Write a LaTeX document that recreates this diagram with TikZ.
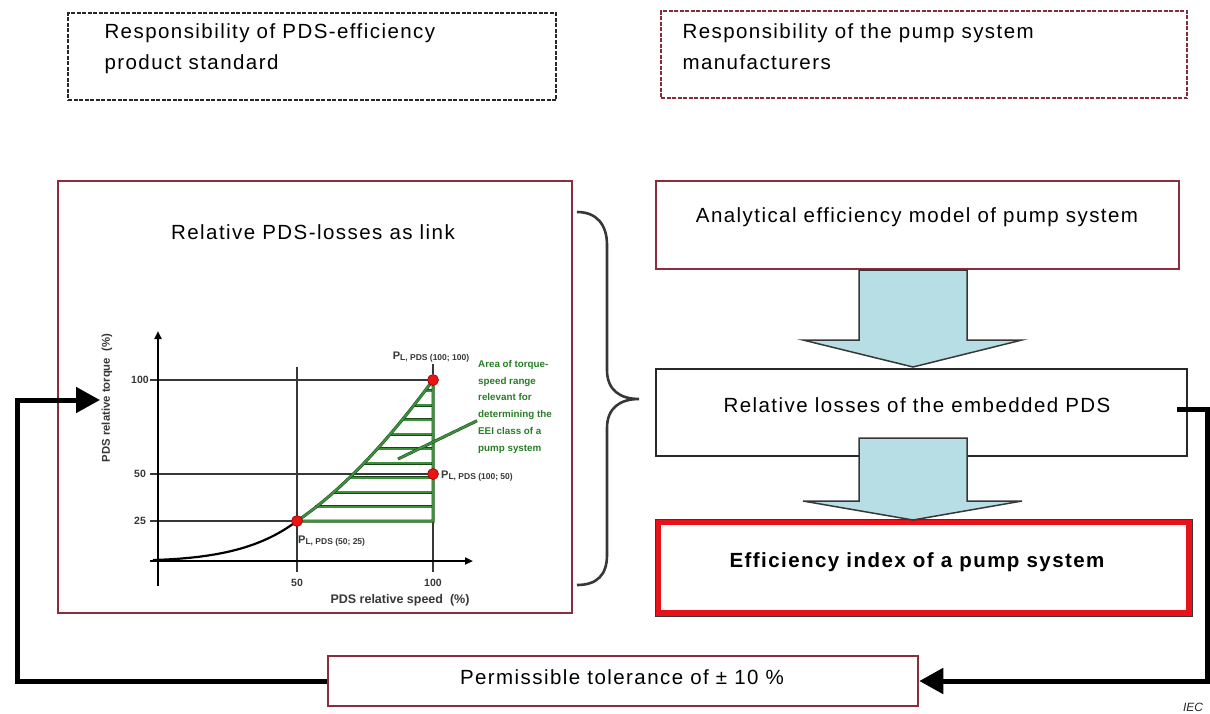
\documentclass[tikz,border=0pt]{standalone}
\usepackage{fontspec}
\setmainfont{Liberation Sans}
\newfontfamily\spacedsans{Liberation Sans}[LetterSpace=7]
\usetikzlibrary{arrows.meta,calc}

\definecolor{boxred}{RGB}{140,45,62}
\definecolor{dashgray}{RGB}{40,40,40}
\definecolor{dashred}{RGB}{140,40,60}
\definecolor{eeired}{RGB}{232,18,24}
\definecolor{arrowblue}{RGB}{183,222,228}
\definecolor{chartgray}{RGB}{55,55,55}
\definecolor{hatchgreen}{RGB}{60,145,60}
\definecolor{hatchdark}{RGB}{25,70,25}
\definecolor{textgreen}{RGB}{40,125,40}
\definecolor{dotred}{RGB}{235,20,20}
\definecolor{dotdark}{RGB}{150,0,0}

% lowered small index after a bold P
\newcommand{\plab}[1]{{\fontsize{11}{12}\selectfont P}\raisebox{-1.8pt}{\fontsize{8.5}{9}\selectfont #1}}

% wide flat-headed block arrow pointing down: top point, tip point, head height
\newcommand{\blockdown}[3]{%
  \draw[blockarrow] let \p1=(#1), \p2=(#2) in
    (\x2-54pt,\y1) -- (\x2+54pt,\y1) -- (\x2+54pt,\y2+#3) -- (\x2+109pt,\y2+#3)
    -- (\p2) -- (\x2-110pt,\y2+#3) -- (\x2-54pt,\y2+#3) -- cycle;}

\begin{document}
\begin{tikzpicture}[x=1pt,y=-1pt,
  boxtext/.style={font=\spacedsans\fontsize{20.5}{31}\selectfont},
  boldtext/.style={font=\spacedsans\bfseries\fontsize{20.5}{31}\selectfont},
  dashbox/.style={draw, line width=2.6pt, dash pattern=on 4pt off 1.5pt, inner sep=0pt},
  redbox/.style={draw=boxred, line width=2.5pt, inner sep=0pt},
  blackbox/.style={draw=dashgray, line width=2.5pt, inner sep=0pt},
  blockarrow/.style={draw=chartgray, line width=1.5pt, fill=arrowblue, line join=miter},
  feedback/.style={line width=5pt, line join=miter, -{Triangle[length=24pt,width=25pt]}},
  bracestyle/.style={draw=chartgray, line width=2.6pt},
  gridline/.style={draw=chartgray, line width=2pt},
  axis/.style={draw=black, line width=2pt, -{Triangle[length=8pt,width=7pt]}},
  hatch/.style={draw=hatchdark, line width=0.5pt, double=hatchgreen, double distance=2pt},
  dot/.style={circle, fill=dotred, draw=dotdark, line width=0.6pt, minimum size=11pt, inner sep=0pt},
  ticklab/.style={font=\bfseries\fontsize{10.5}{12}\selectfont, text=chartgray},
  axtitle/.style={font=\bfseries\fontsize{12.5}{14}\selectfont, text=chartgray},
  plabel/.style={font=\bfseries, text=chartgray, inner sep=1pt},
  greentext/.style={font=\bfseries\fontsize{9.8}{16.8}\selectfont, text=textgreen, inner sep=0pt}
]
\useasboundingbox (0,0) rectangle (1210,713);

% responsibility frames
\node[dashbox, draw=dashgray, minimum width=488pt, minimum height=87pt] (stdframe) at (312,56.5) {};
\node[boxtext, anchor=west, align=left] (stdtext) at (101,49) {Responsibility of PDS-efficiency\\product standard};
\node[dashbox, draw=dashred, minimum width=526pt, minimum height=87pt] (mfrframe) at (924,54.5) {};
\node[boxtext, anchor=west, align=left] (mfrtext) at (679,47) {Responsibility of the pump system\\manufacturers};

% left panel with the torque-speed chart
\node[redbox, minimum width=514pt, minimum height=432pt] (chartbox) at (315,397) {};
\node[boxtext] (charttitle) at (313,232) {Relative PDS-losses as link};

\draw[gridline] (150,380) -- (433,380);
\draw[gridline] (150,474) -- (433,474);
\draw[gridline] (150,521) -- (297,521);
\draw[gridline] (297,367) -- (297,572);
\draw[gridline] (433,380) -- (433,572);
\draw[axis] (158,586) -- (158,331);
\draw[axis] (150,561) -- (473,561);

% loss curve below the relevant range
\draw[black, line width=2.2pt] (153,560) .. controls (225,558) and (265,545) .. (297,521);
% hatched area of the relevant torque-speed range
\foreach \k in {1,...,9} {
  \pgfmathsetmacro\hy{521-14.5*\k}
  \pgfmathsetmacro\hx{158+27.5*sqrt(25+(521-\hy)/1.88)}
  \draw[hatch] (\hx,\hy) -- (433,\hy);
}
\draw[hatch] (297,521) .. controls (341,491) and (386,444) .. (433,380) -- (433,521) -- cycle;

\node[greentext, anchor=north west, align=left] (areatext) at (478,360)
  {Area of torque-\\speed range\\relevant for\\determining the\\EEI class of a\\pump system};
\draw[hatch] ($(areatext.west)+(-1,14)$) -- (398,459);

\node[dot] (p100) at (433,380) {};
\node[dot] (p50) at (433,474) {};
\node[dot] (p25) at (297,521) {};

\node[plabel] (l100) at (431,357) {\plab{L, PDS (100; 100)}};
\draw[chartgray, line width=1.2pt] (p100.north) -- (p100.north |- l100.south);
\node[plabel, anchor=west] (l50) at (440,476) {\plab{L, PDS (100; 50)}};
\node[plabel, anchor=west] (l25) at (297,541) {\plab{L, PDS (50; 25)}};

\node[ticklab] (ty100) at (140,380) {100};
\node[ticklab] (ty50) at (140,474) {50};
\node[ticklab] (ty25) at (140,521) {25};
\node[ticklab] (tx50) at (297,583) {50};
\node[ticklab] (tx100) at (433,583) {100};
\node[axtitle] (xtitle) at (400,600) {PDS relative speed\ \ (\%)};
\node[axtitle, font=\bfseries\fontsize{11.3}{13}\selectfont, rotate=90] (ytitle) at (107,398) {PDS relative torque\ \ (\%)};

% brace gathering the chart
\draw[bracestyle] (577,212) .. controls (597,212) and (607,225) .. (607,245) -- (607,370)
  .. controls (607,390) and (620,399) .. (639,399)
  .. controls (620,399) and (607,408) .. (607,428) -- (607,555)
  .. controls (607,575) and (597,585) .. (577,585);

% right-hand chain
\node[redbox, minimum width=523pt, minimum height=88pt] (analytic) at (917.5,225) {};
\node[boxtext] (analytictext) at (917,217) {Analytical efficiency model of pump system};
\node[blackbox, minimum width=531pt, minimum height=87pt] (losses) at (921.5,412.5) {};
\node[boxtext] (lossestext) at (917,405) {Relative losses of the embedded PDS};
\node[draw=eeired, line width=6pt, minimum width=531pt, minimum height=91pt, inner sep=0pt] (eei) at (923.5,567.5) {};
\draw[chartgray, line width=0.8pt] (eei.north west) rectangle (eei.south east);
\node[boldtext] (eeitext) at (917,562) {Efficiency index of a pump system};

\coordinate (a1top) at (913,270);
\coordinate (a1tip) at (913,367);
\blockdown{a1top}{a1tip}{27pt}
\coordinate (a2top) at (913,438);
\coordinate (a2tip) at (913,520);
\blockdown{a2top}{a2tip}{19pt}

% tolerance box and feedback loop
\node[redbox, minimum width=590pt, minimum height=50pt] (tol) at (623,681) {};
\node[boxtext] (toltext) at (622,677) {Permissible tolerance of ± 10 \%};

\coordinate (rstart) at (1177,409);
\coordinate (rturn) at (1207,409);
\draw[feedback] (rstart) -- (rturn) |- (tol.east);
\coordinate (lturn) at (17,400);
\coordinate (inlet) at (100,400);
\draw[feedback] (tol.west) -| (lturn) -- (inlet);

\node[font=\itshape\fontsize{12}{14}\selectfont, text=dashgray] (iec) at (1193,707) {IEC};
\end{tikzpicture}
\end{document}
